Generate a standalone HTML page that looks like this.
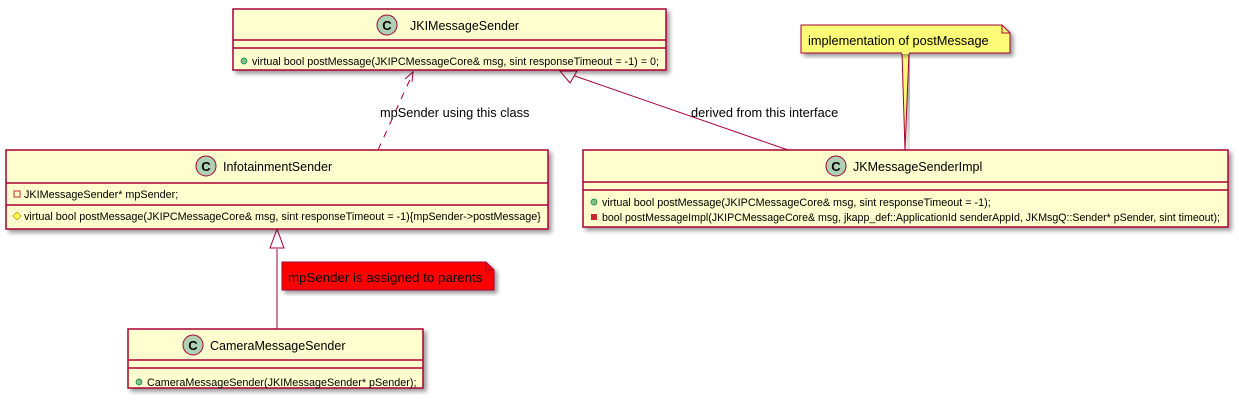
<!DOCTYPE html>
<html><head><style>body{margin:0;background:#fff}svg{display:block}</style></head><body>
<svg width="1239" height="402" xmlns="http://www.w3.org/2000/svg" font-family="Liberation Sans, sans-serif">
<defs><filter id="sh" x="-5%" y="-10%" width="115%" height="130%"><feGaussianBlur in="SourceAlpha" stdDeviation="2"/><feOffset dx="3" dy="3"/><feComponentTransfer><feFuncA type="linear" slope="0.4"/></feComponentTransfer><feMerge><feMergeNode/><feMergeNode in="SourceGraphic"/></feMerge></filter></defs>
<g stroke="#A80036" fill="none" stroke-width="1">
<line x1="378" y1="150" x2="412" y2="75" stroke-dasharray="7,7"/>
<polyline points="405,79 413,72 412,82"/>
<line x1="788" y1="150" x2="572" y2="75"/>
<polygon points="560,71 577,71 570,83" fill="#fff"/>
<line x1="277" y1="329" x2="277" y2="249"/>
<polygon points="277,229 270,248 284,248" fill="#fff"/>
</g>
<g font-size="12.8" fill="#000">
<text x="380" y="117">mpSender using this class</text>
<text x="691" y="117">derived from this interface</text>
</g>
<path d="M905,150 L902,53 L909,53 Z" fill="#FBFB77" stroke="#A80036" filter="url(#sh)"/>
<path d="M801,25 H1002 L1010,33 V53 H801 Z" fill="#FBFB77" stroke="#A80036" filter="url(#sh)"/>
<path d="M1002,25 V33 H1010" fill="none" stroke="#A80036"/>
<line x1="902" y1="53" x2="909" y2="53" stroke="#FBFB77" stroke-width="2"/>
<text x="808" y="45" font-size="12.8">implementation of postMessage</text>
<path d="M282,262 H486 L494,270 V290 H282 Z" fill="#FF0000" stroke="#A80036" filter="url(#sh)"/>
<path d="M486,262 V270 H494" fill="none" stroke="#A80036"/>
<text x="288" y="282" font-size="13.3">mpSender is assigned to parents</text>
<g stroke="#A80036" stroke-width="1.5" fill="#FEFECE">
<rect x="233" y="9" width="433" height="61" filter="url(#sh)"/>
<rect x="6" y="150" width="542" height="79" filter="url(#sh)"/>
<rect x="128" y="329" width="295" height="59" filter="url(#sh)"/>
<rect x="583" y="150" width="645" height="77" filter="url(#sh)"/>
</g>
<g stroke="#A80036" stroke-width="1.5">
<line x1="233" y1="40" x2="666" y2="40"/><line x1="233" y1="48" x2="666" y2="48"/>
<line x1="6" y1="183" x2="548" y2="183"/><line x1="6" y1="205" x2="548" y2="205"/>
<line x1="128" y1="360" x2="423" y2="360"/><line x1="128" y1="368" x2="423" y2="368"/>
<line x1="583" y1="182" x2="1228" y2="182"/><line x1="583" y1="190" x2="1228" y2="190"/>
</g>
<g fill="#ADD1B2" stroke="#A80036">
<circle cx="387" cy="25" r="10"/><circle cx="206" cy="166" r="10"/><circle cx="193" cy="345" r="10"/><circle cx="836" cy="166" r="10"/>
</g>
<g font-size="13" font-weight="bold" text-anchor="middle">
<text x="387" y="30">C</text><text x="206" y="171">C</text><text x="193" y="350">C</text><text x="836" y="171">C</text>
</g>
<g font-size="12.5">
<text x="410" y="30">JKIMessageSender</text>
<text x="223" y="171">InfotainmentSender</text>
<text x="210" y="350">CameraMessageSender</text>
<text x="853" y="171">JKMessageSenderImpl</text>
</g>
<g font-size="10.8">
<circle cx="244" cy="61" r="3" fill="#84BE84" stroke="#038048" stroke-width="0.7"/>
<text x="252" y="65">virtual bool postMessage(JKIPCMessageCore&amp; msg, sint responseTimeout = -1) = 0;</text>
<rect x="14" y="191" width="6" height="6" fill="none" stroke="#C82930"/>
<text x="24" y="198">JKIMessageSender* mpSender;</text>
<polygon points="17,212 21,216 17,220 13,216" fill="#FFFF44" stroke="#B38D22" stroke-width="0.7"/>
<text x="24" y="220">virtual bool postMessage(JKIPCMessageCore&amp; msg, sint responseTimeout = -1){mpSender-&gt;postMessage}</text>
<circle cx="139" cy="382" r="3" fill="#84BE84" stroke="#038048" stroke-width="0.7"/>
<text x="147" y="386">CameraMessageSender(JKIMessageSender* pSender);</text>
<circle cx="594" cy="202" r="3" fill="#84BE84" stroke="#038048" stroke-width="0.7"/>
<text x="602" y="206">virtual bool postMessage(JKIPCMessageCore&amp; msg, sint responseTimeout = -1);</text>
<rect x="591" y="214" width="6" height="6" fill="#C82930"/>
<text x="602" y="221" textLength="618" lengthAdjust="spacingAndGlyphs">bool postMessageImpl(JKIPCMessageCore&amp; msg, jkapp_def::ApplicationId senderAppId, JKMsgQ::Sender* pSender, sint timeout);</text>
</g>
</svg>
</body></html>
